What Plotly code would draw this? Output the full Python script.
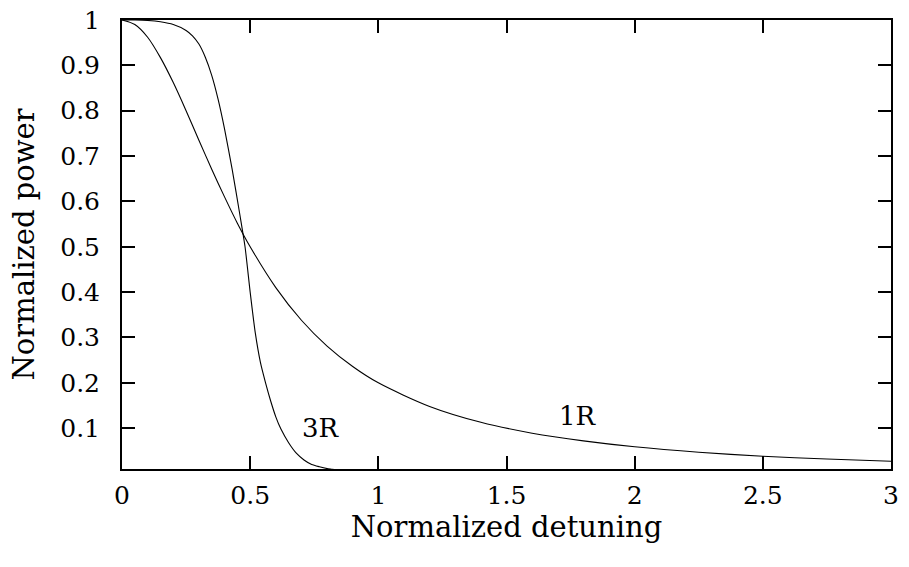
import plotly.graph_objects as go

# Data
x_1r = [0, 0.05, 0.1, 0.15, 0.2, 0.25, 0.3, 0.35, 0.4, 0.45, 0.5, 0.6, 0.7, 0.8, 0.9,
        1.0, 1.2, 1.4, 1.6, 1.8, 2.0, 2.25, 2.5, 2.75, 3.0]
y_1r = [1.0, 0.990, 0.962, 0.917, 0.862, 0.800, 0.735, 0.671, 0.610, 0.552, 0.500,
        0.410, 0.338, 0.281, 0.236, 0.200, 0.148, 0.113, 0.089, 0.072, 0.059, 0.047,
        0.038, 0.032, 0.027]

x_3r = [0, 0.05, 0.1, 0.15, 0.2, 0.25, 0.275, 0.3, 0.325, 0.35, 0.375, 0.4, 0.43, 0.46,
        0.48, 0.5, 0.52, 0.54, 0.56, 0.58, 0.6, 0.62, 0.65, 0.68, 0.71, 0.74, 0.77, 0.8,
        0.82, 0.85]
y_3r = [1.0, 1.0, 0.999, 0.996, 0.99, 0.977, 0.965, 0.947, 0.918, 0.878, 0.825, 0.76,
        0.67, 0.57, 0.50, 0.40, 0.31, 0.245, 0.20, 0.16, 0.125, 0.098, 0.068, 0.045,
        0.030, 0.020, 0.015, 0.011, 0.0095, 0.007]

x_ticks = [0, 0.5, 1, 1.5, 2, 2.5, 3]
x_ticktext = ["0", "0.5", "1", "1.5", "2", "2.5", "3"]
y_ticks = [0.1, 0.2, 0.3, 0.4, 0.5, 0.6, 0.7, 0.8, 0.9, 1.0]
y_ticktext = ["0.1", "0.2", "0.3", "0.4", "0.5", "0.6", "0.7", "0.8", "0.9", "1"]

labels = ["3R", "1R"]
label_x = [0.777, 1.777]
label_y = [0.10, 0.127]

FONT = "DejaVu Serif"

fig = go.Figure()
fig.add_trace(go.Scatter(x=x_1r, y=y_1r, mode="lines",
                         line=dict(color="black", width=1.1, shape="spline", smoothing=0.8),
                         showlegend=False))
fig.add_trace(go.Scatter(x=x_3r, y=y_3r, mode="lines",
                         line=dict(color="black", width=1.1, shape="spline", smoothing=0.6),
                         showlegend=False))

for t, ax, ay in zip(labels, label_x, label_y):
    fig.add_annotation(x=ax, y=ay, text=t, showarrow=False,
                       font=dict(family=FONT, size=26, color="black"))

axis_common = dict(
    showgrid=False, zeroline=False, showline=True, linecolor="black", linewidth=2,
    ticks="inside", ticklen=13, tickwidth=1.5, tickcolor="black", mirror="ticks",
    tickfont=dict(family=FONT, size=25, color="black"), automargin=False,
    ticklabeloverflow="allow",
)

fig.update_xaxes(range=[0, 3], tickvals=x_ticks, ticktext=x_ticktext,
                 title=dict(text="Normalized detuning",
                            font=dict(family=FONT, size=29, color="black"), standoff=0),
                 ticklabelstandoff=3, **axis_common)
fig.update_yaxes(range=[0.01, 1], tickvals=y_ticks, ticktext=y_ticktext,
                 title=dict(text="Normalized power",
                            font=dict(family=FONT, size=29, color="black"), standoff=17),
                 ticklabelstandoff=15, **axis_common)

fig.update_layout(
    width=909, height=567,
    margin=dict(l=121.5, r=18, t=20, b=97.5),
    plot_bgcolor="white", paper_bgcolor="white",
)

fig.write_html("out.html", config={"displayModeBar": False},
               post_script="document.body.style.margin='0';")
